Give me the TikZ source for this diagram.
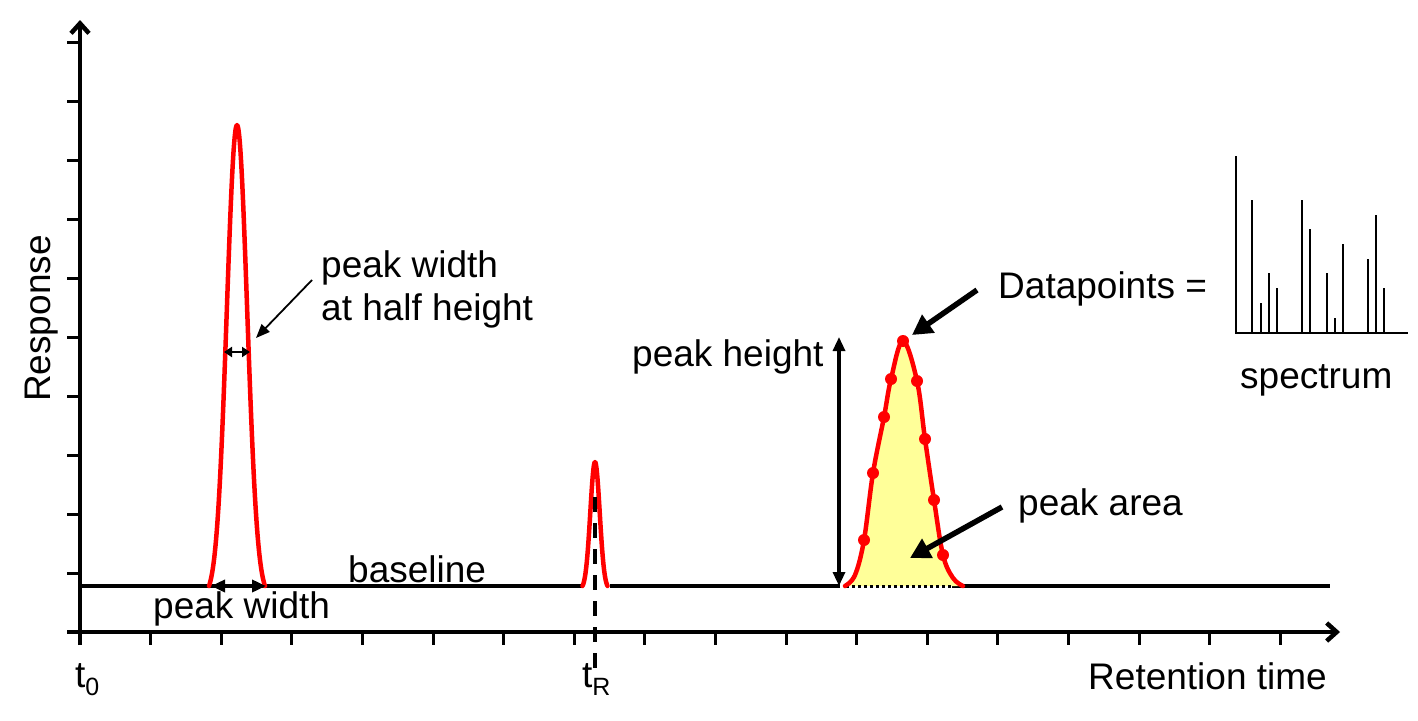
\documentclass[tikz,border=0pt]{standalone}
\usepackage{fontspec}
\setmainfont{Liberation Sans}
\usetikzlibrary{arrows.meta}
\definecolor{pkred}{RGB}{255,0,0}
\definecolor{pkyellow}{RGB}{255,255,153}
\newcommand\subtxt[1]{{\fontsize{25}{25}\selectfont\raisebox{-8pt}{#1}}}
\begin{document}
\begin{tikzpicture}[x=1pt,y=-1pt,
  lbl/.style={anchor=base west, inner sep=0pt, font=\fontsize{37}{44}\selectfont},
  axisline/.style={line width=4.5pt, line cap=butt},
  tickline/.style={line width=3pt},
  baseln/.style={line width=4pt},
  peakline/.style={draw=pkred, line width=4.5pt, line cap=round, line join=round},
  specline/.style={line width=2.8pt},
  thinarrow/.style={line width=1.8pt, -{Triangle[length=14pt,width=11pt]}},
  fatarrow/.style={line width=5.5pt, -{Triangle[length=20pt,width=21pt]}},
  dblarrow/.style={line width=3.2pt, {Triangle[length=14pt,width=12pt]}-{Triangle[length=14pt,width=12pt]}},
  smalldbl/.style={line width=2.8pt, {Triangle[length=8pt,width=10pt]}-{Triangle[length=8pt,width=10pt]}},
  dot/.style={circle, fill=pkred, inner sep=0pt, minimum size=12pt}
]
\useasboundingbox (0,0) rectangle (1418,720);

% axes
\coordinate (ybot) at (80,645);
\coordinate (ytop) at (80,20);
\coordinate (xbeg) at (67,632);
\coordinate (xend) at (1340,632);
\draw[axisline, -{Straight Barb[length=10pt,width=18pt]}] (ybot) -- (ytop);
\draw[axisline, -{Straight Barb[length=10pt,width=18pt]}] (xbeg) -- (xend);
\foreach \k in {1,...,10} \draw[tickline] (67,{632-59*\k}) -- (80,{632-59*\k});
\foreach \k in {1,...,17} \draw[tickline] ({80+70.6*\k},632) -- ({80+70.6*\k},645);

% baseline
\coordinate (b0) at (80,586);
\coordinate (b1) at (582,586);
\coordinate (b2) at (610,586);
\coordinate (b3) at (840,586);
\coordinate (b4) at (846,586);
\coordinate (b5) at (952,586);
\coordinate (b6) at (1330,586);
\draw[baseln] (b0) -- (b1);
\draw[baseln] (b2) -- (b3);
\draw[baseln] (b5) -- (b6);

% peak 1
\draw[peakline] plot[domain=-28:28, samples=90]
  ({237+\x}, {586 - 461*(exp(-\x*\x/208.08) - 0.0231)/0.9769});
% peak 2
\draw[peakline] plot[domain=-12.5:12.5, samples=60]
  ({595+\x}, {586 - 124*(exp(-\x*\x/44.18) - 0.0291)/0.9709});
% tR dashed line
\coordinate (tRtop) at (595,497);
\coordinate (tRbot) at (595,668);
\draw[line width=4pt, dash pattern=on 15pt off 11pt] (tRtop) -- (tRbot);

% peak 3
\def\pkthree{(845,586) (855,575) (864,540) (873,473) (884,417) (891,379) (903,341) (917,381) (925,439) (934,500) (943,555) (953,578) (963,586)}
\fill[pkyellow] plot[smooth, tension=0.6] coordinates {\pkthree} -- cycle;
\draw[line width=3pt, dash pattern=on 3pt off 3pt] (b4) -- (b5);
\draw[peakline] plot[smooth, tension=0.6] coordinates {\pkthree};
\foreach \p [count=\i] in {(864,540),(873,473),(884,417),(891,379),(903,341),(917,381),(925,439),(934,500),(943,555)}
  \node[dot] (d\i) at \p {};

% peak height arrow
\coordinate (phb) at (839,586);
\coordinate (pht) at (839,337);
\draw[dblarrow] (phb) -- (pht);

% peak width arrows
\coordinate (pwl) at (211,586);
\coordinate (pwr) at (266,586);
\draw[dblarrow, line width=4pt] (pwl) -- (pwr);
\coordinate (hhl) at (224,352);
\coordinate (hhr) at (250,352);
\draw[smalldbl] (hhl) -- (hhr);

% annotation arrows
\coordinate (a1s) at (312,280);
\coordinate (a1e) at (256,338);
\draw[thinarrow] (a1s) -- (a1e);
\coordinate (a2s) at (977,290);
\coordinate (a2e) at (912,335);
\draw[fatarrow] (a2s) -- (a2e);
\coordinate (a3s) at (1002,507);
\coordinate (a3e) at (910,558);
\draw[fatarrow] (a3s) -- (a3e);

% spectrum
\coordinate (s0) at (1236,156);
\coordinate (s1) at (1236,333);
\coordinate (s2) at (1408,333);
\draw[specline] (s0) -- (s1) -- (s2);
\foreach \x/\y in {1252/200,1261/303,1269/273,1277/288,1302/200,1310/229,1327/273,1335/318,1343/244,1368/259,1376/215,1384/288}
  \draw[specline] (\x,333) -- (\x,\y);

% labels
\node[lbl] (pw) at (153,618) {peak width};
\node[lbl] (bl) at (348,582) {baseline};
\node[lbl] (pwh1) at (321,277) {peak width};
\node[lbl] (pwh2) at (321,320) {at half height};
\node[lbl] (phl) at (632,366) {peak height};
\node[lbl] (dp) at (998,298) {Datapoints =};
\node[lbl] (sp) at (1240,388) {spectrum};
\node[lbl] (pa) at (1018,515) {peak area};
\node[lbl] (rt) at (1088,689) {Retention time};
\node[lbl, rotate=90] (resp) at (50,402) {Response};
\node[lbl] (t0) at (75,687) {t\subtxt{0}};
\node[lbl] (tR) at (582,687) {t\subtxt{R}};
\end{tikzpicture}
\end{document}
